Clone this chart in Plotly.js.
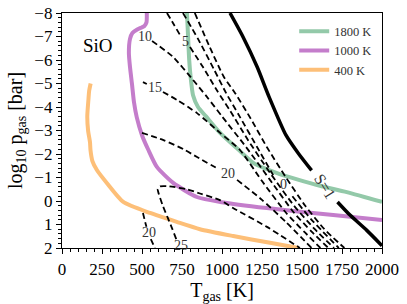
<!DOCTYPE html>
<html>
<head>
<meta charset="utf-8">
<script src="https://cdn.plot.ly/plotly-3.0.1.min.js"></script>
<style>html,body{margin:0;padding:0;background:#fff;}#chart{width:407px;height:304px;}</style>
</head>
<body>
<div id="chart"></div>
<script>
// ---- colored isotherm curves (T_gas [K], log10 p_gas [bar]) ----
const seriesNames = ["1800 K", "1000 K", "400 K"];
const green_T = [781, 788, 795, 805, 819, 850, 900, 988, 1100, 1200, 1344, 1480, 1612, 1780, 2000];
const green_p = [-8, -7, -6, -5.2, -4.5, -4.0, -3.6, -2.9, -2.2, -1.6, -1.19, -0.9, -0.65, -0.38, 0.04];
const purple_T = [530, 528, 515, 470, 440, 425, 418, 425, 437, 450, 467, 500, 540, 593, 695, 843, 1000, 1280, 1695, 2000];
const purple_p = [-8, -7.6, -7.45, -7.3, -7.15, -6.9, -6.3, -5.7, -5.0, -4.2, -3.57, -2.8, -2.17, -1.45, -0.77, -0.17, 0.05, 0.30, 0.60, 0.81];
const orange_T = [179, 170, 165, 158, 163, 175, 178, 190, 218, 280, 383, 550, 717, 862, 1070, 1300, 1480];
const orange_p = [-5.0, -4.7, -4.3, -3.6, -3.0, -2.5, -2.17, -1.7, -1.32, -0.77, 0.04, 0.51, 0.89, 1.2, 1.49, 1.78, 2.0];

// ---- saturation S=1 curve (thick black), gap at the label ----
const sat_T = [1050, 1130, 1220, 1290, 1400, 1480, 1560, null, 1722, 1800, 1905, 2000];
const sat_p = [-8, -7.0, -5.7, -4.5, -2.8, -2.0, -1.3, null, 0.04, 0.6, 1.25, 1.9];

// ---- dashed contours ----
const c5_T = [656, 700, 738, null, 800, 881, 969, 1050, 1162, 1300, 1450, 1580, 1700];
const c5_p = [-8, -7.5, -7.06, null, -6.55, -5.7, -4.7, -3.85, -2.6, -1.2, 0.2, 1.2, 2];
const c0_T = [756, 850, 950, 1025, 1110, 1219, 1320, null, 1440, 1560, 1730];
const c0_p = [-8, -6.9, -5.6, -4.6, -3.6, -2.3, -1.1, null, -0.2, 0.8, 2];
const cx_T = [830, 920, 1010, 1081, 1180, 1280, 1400, 1520, 1640, 1765];
const cx_p = [-8, -6.6, -5.3, -4.6, -3.5, -2.3, -1.0, 0.2, 1.2, 2];
const c10_T = [563, 694, 819, 906, 1000, 1150, 1300, 1450, 1560, 1665];
const c10_p = [-6.81, -6.13, -5.15, -4.43, -3.6, -2.3, -0.9, 0.5, 1.3, 2];
const c15_T = [506, 530, null, 631, 719, 844, 988, 1112, 1250, 1400, 1520, 1615];
const c15_p = [-5.06, -4.98, null, -4.64, -4.3, -3.74, -2.9, -2.17, -0.85, 0.5, 1.35, 2];
const c20u_T = [500, 631, 760, 844, 980, null, 1094, 1250, 1400, 1560];
const c20u_p = [-2.9, -2.6, -2.2, -1.87, -1.35, null, -0.9, -0.05, 0.9, 2];
const c20l_T = [506, 520, 528, null, 555, 581];
const c20l_p = [0.51, 0.9, 1.1, null, 1.62, 2];
const c25_T = [714, 690, 660, 630, 605, 598, 612, 660, 781, 862, 987, 1069, 1281, 1487];
const c25_p = [1.62, 1.2, 0.7, 0.2, -0.3, -0.5, -0.62, -0.63, -0.5, -0.32, -0.04, 0.3, 1.1, 2];

// ---- contour labels ----
const lab_text = ["10", "5", "15", "20", "20", "25", "0"];
const lab_T = [519, 769, 582, 1038, 542, 745, 1385];
const lab_p = [-7.0, -6.8, -4.83, -1.19, 1.35, 1.88, -0.72];
const satLabel = "S=1";
const satLabel_T = 1645;
const satLabel_p = -0.62;

const xTickVals = [0, 250, 500, 750, 1000, 1250, 1500, 1750, 2000];
const yTickVals = [-8, -7, -6, -5, -4, -3, -2, -1, 0, 1, 2];

const serif = "Liberation Serif, DejaVu Serif, serif";
const traces = [];
function colored(T, p, color, name) {
  traces.push({x: T, y: p, mode: "lines", name: name, line: {color: color, width: 4, shape: "spline", smoothing: 0.6}, hoverinfo: "skip"});
}
colored(green_T, green_p, "#93c9a9", seriesNames[0]);
colored(purple_T, purple_p, "#c47dcb", seriesNames[1]);
colored(orange_T, orange_p, "#fdbf78", seriesNames[2]);
function dashed(T, p) {
  traces.push({x: T, y: p, mode: "lines", showlegend: false, line: {color: "#000", width: 1.8, dash: "6px,3.5px", shape: "spline", smoothing: 0.6}, connectgaps: false, hoverinfo: "skip"});
}
[[c5_T, c5_p], [c0_T, c0_p], [cx_T, cx_p], [c10_T, c10_p], [c15_T, c15_p], [c20u_T, c20u_p], [c20l_T, c20l_p], [c25_T, c25_p]].forEach(a => dashed(a[0], a[1]));
traces.push({x: sat_T, y: sat_p, mode: "lines", showlegend: false, line: {color: "#000", width: 3.5, shape: "spline", smoothing: 0.6}, connectgaps: false, hoverinfo: "skip"});

const annotations = lab_text.map((t, i) => ({x: lab_T[i], y: lab_p[i], text: t, showarrow: false, font: {family: serif, size: 14, color: "#333"}}));
annotations.push({x: satLabel_T, y: satLabel_p, text: satLabel, showarrow: false, textangle: 58, font: {family: serif, size: 16, color: "#333"}});
annotations.push({x: 0.06, y: 0.915, xref: "paper", yref: "paper", xanchor: "left", text: "SiO", showarrow: false, font: {family: serif, size: 19, color: "#000"}});

const layout = {
  width: 407, height: 304,
  margin: {l: 62, r: 25, t: 13, b: 56},
  paper_bgcolor: "#fff", plot_bgcolor: "#fff",
  font: {family: serif, color: "#000"},
  showlegend: true,
  legend: {x: 0.985, y: 0.985, xanchor: "right", yanchor: "top", bgcolor: "rgba(0,0,0,0)", font: {family: serif, size: 12.5, color: "#333"}, itemwidth: 30, tracegroupgap: 0},
  xaxis: {
    range: [0, 2000], tickvals: xTickVals, ticks: "outside", ticklen: 5, tickwidth: 1, tickcolor: "#000",
    showline: true, linecolor: "#000", linewidth: 1.2, mirror: true, showgrid: false, zeroline: false,
    tickfont: {family: serif, size: 17},
    minor: {dtick: 50, ticks: "outside", ticklen: 3, tickcolor: "#000", showgrid: false},
    title: {text: "T<sub>gas</sub> [K]", font: {family: serif, size: 20}, standoff: 4}
  },
  yaxis: {
    range: [2, -8], tickvals: yTickVals, ticks: "outside", ticklen: 5, tickwidth: 1, tickcolor: "#000",
    showline: true, linecolor: "#000", linewidth: 1.2, mirror: true, showgrid: false, zeroline: false,
    tickfont: {family: serif, size: 17},
    minor: {dtick: 0.2, ticks: "outside", ticklen: 3, tickcolor: "#000", showgrid: false},
    title: {text: "log<sub>10</sub> p<sub>gas</sub> [bar]", font: {family: serif, size: 20}, standoff: 6}
  },
  annotations: annotations
};
Plotly.newPlot("chart", traces, layout, {staticPlot: true, displayModeBar: false});
</script>
</body>
</html>
